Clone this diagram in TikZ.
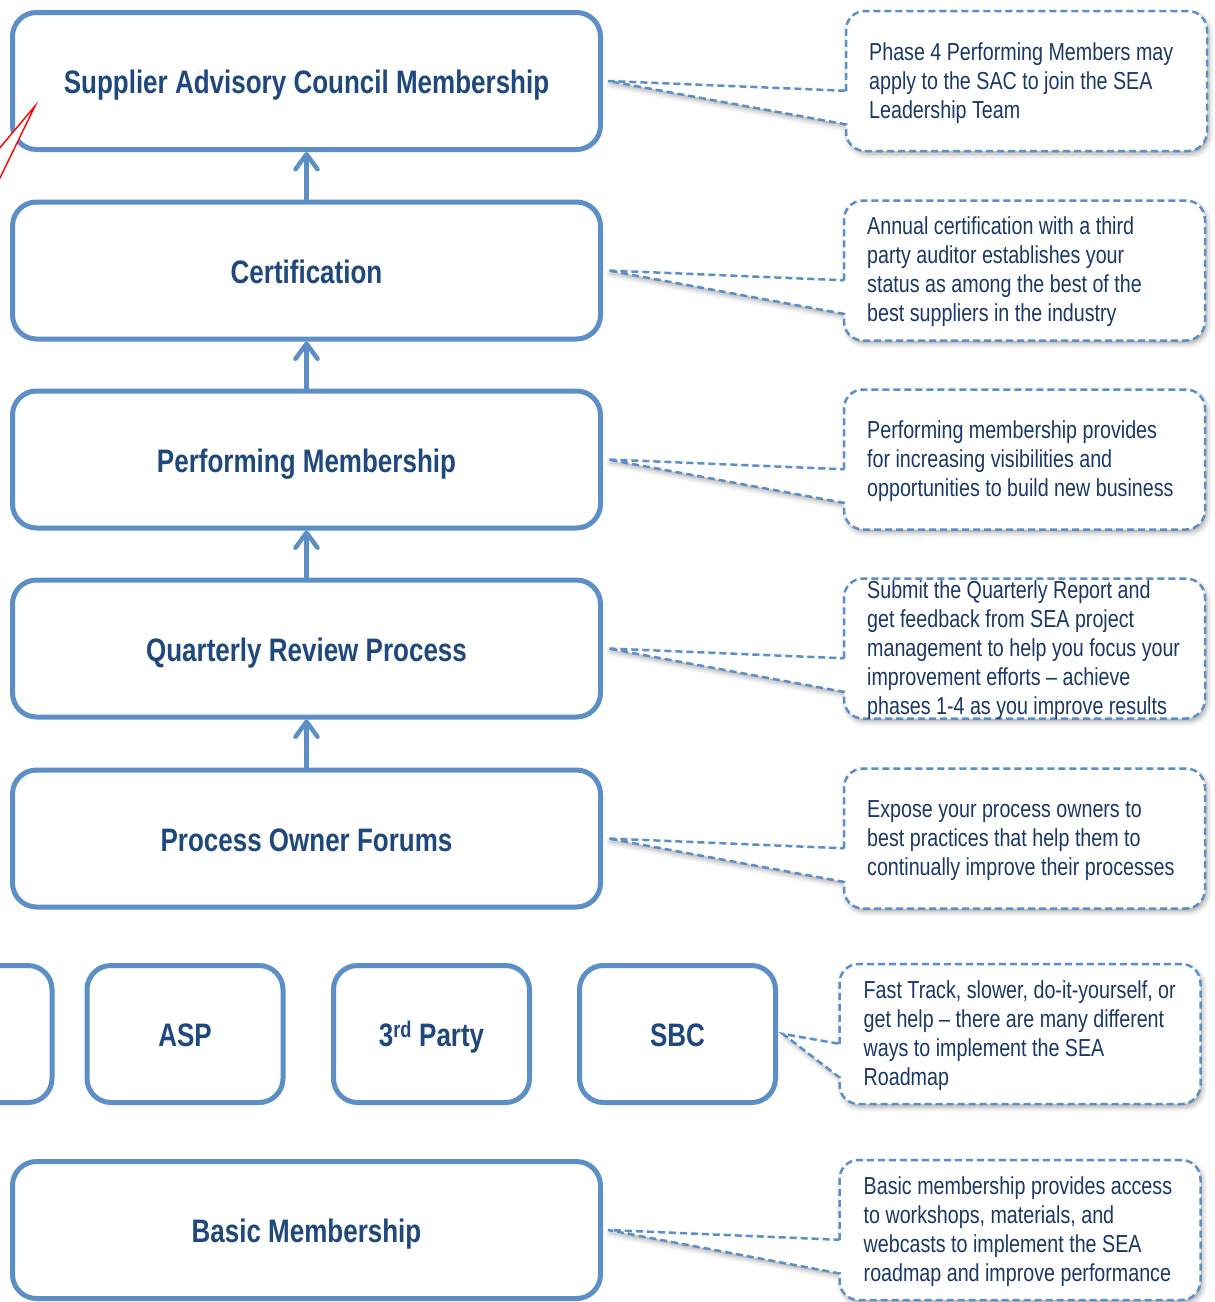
\documentclass[tikz,border=0pt]{standalone}
\usepackage{fontspec}
\setmainfont[FakeStretch=0.8]{Liberation Sans}
\usetikzlibrary{arrows.meta,calc,backgrounds,shadows.blur}

\definecolor{boxblue}{RGB}{92,143,198}
\definecolor{textblue}{RGB}{31,73,125}
\definecolor{notetext}{RGB}{28,56,102}

% callout outline: rounded box with a wedge pointing at a box
\newcommand{\calloutline}[2]{%
  \draw[outline]
    ($(#1.north west)!0.57!(#1.south west)$) [rounded corners=19pt]
    -- (#1.north west) -- (#1.north east) -- (#1.south east) -- (#1.south west)
    [sharp corners] -- ($(#1.north west)!0.81!(#1.south west)$)
    -- ($(#2.east)+(5,0)$) -- cycle;}

\begin{document}
\begin{tikzpicture}[x=1pt,y=-1pt,
  box/.style={draw=boxblue, line width=5pt, rounded corners=24pt, fill=white,
    minimum width=588pt, minimum height=137pt, inner sep=0pt,
    text height=31pt, text depth=6pt,
    font=\bfseries\fontsize{32.5}{38}\selectfont, text=textblue},
  small/.style={box, minimum width=196pt},
  notebox/.style={minimum width=361pt, minimum height=140pt, inner sep=0pt, outer sep=0pt},
  notetxt/.style={anchor=west, align=left, inner sep=0pt,
    font=\fontsize{24.6}{29}\selectfont, text=notetext},
  outline/.style={draw=boxblue, line width=2.5pt, dash pattern=on 7pt off 4pt, fill=white,
    blur shadow={shadow xshift=2pt, shadow yshift=-3pt, shadow opacity=35, shadow blur radius=5pt}},
  up/.style={draw=boxblue, line width=4.5pt, shorten <=-3pt,
    -{Straight Barb[length=15pt,width=22pt,round]}}
]
\useasboundingbox (0,0) rectangle (1215,1302);
\clip (0,0) rectangle (1215,1302);

% membership ladder
\node[box] (sac)   at (306.5,81)    {Supplier Advisory Council Membership};
\node[box] (cert)  at (306.5,270.5) {Certification};
\node[box] (perf)  at (306.5,459.5) {Performing Membership};
\node[box] (qrp)   at (306.5,648.5) {Quarterly Review Process};
\node[box] (pof)   at (306.5,838.5) {Process Owner Forums};
\node[box] (basic) at (306.5,1230)  {Basic Membership};

% implementation routes
\node[small] (first) at (-46,1034)   {};
\node[small] (asp)   at (185,1034)   {ASP};
\node[small] (third) at (431.5,1034) {3\textsuperscript{rd} Party};
\node[small] (sbc)   at (677.5,1034) {SBC};

% upward progression
\draw[up] (cert.north) -- (sac.south);
\draw[up] (perf.north) -- (cert.south);
\draw[up] (qrp.north)  -- (perf.south);
\draw[up] (pof.north)  -- (qrp.south);

% red pointer at the top left
\fill[white] (35,106) -- (-2,150) -- (-2,182) -- cycle;
\draw[red, line width=1.4pt, line join=miter] (-2,150) -- (35,106) -- (-2,182);

% explanatory notes
\node[notebox] (n1) at (1026.5,81)   {};
\node[notebox] (n2) at (1024.5,270.5) {};
\node[notebox] (n3) at (1024.5,459.5) {};
\node[notebox] (n4) at (1024.5,648.5) {};
\node[notebox] (n5) at (1024.5,838.5) {};
\node[notebox] (n6) at (1020,1034)   {};
\node[notebox] (n7) at (1020,1230)   {};

\node[notetxt] (t1) at ($(n1.west)+(23,2)$) {Phase 4 Performing Members may\\apply to the SAC to join the SEA\\Leadership Team};
\node[notetxt] (t2) at ($(n2.west)+(23,1)$) {Annual certification with a third\\party auditor establishes your\\status as among the best of the\\best suppliers in the industry};
\node[notetxt] (t3) at ($(n3.west)+(23,2)$) {Performing membership provides\\for increasing visibilities and\\opportunities to build new business};
\node[notetxt] (t4) at ($(n4.west)+(23,2)$) {Submit the Quarterly Report and\\get feedback from SEA project\\management to help you focus your\\improvement efforts – achieve\\phases 1-4 as you improve results};
\node[notetxt] (t5) at ($(n5.west)+(23,2)$) {Expose your process owners to\\best practices that help them to\\continually improve their processes};
\node[notetxt] (t6) at ($(n6.west)+(24,2)$) {Fast Track, slower, do-it-yourself, or\\get help – there are many different\\ways to implement the SEA\\Roadmap};
\node[notetxt] (t7) at ($(n7.west)+(24,2)$) {Basic membership provides access\\to workshops, materials, and\\webcasts to implement the SEA\\roadmap and improve performance};

\begin{scope}[on background layer]
  \calloutline{n1}{sac}
  \calloutline{n2}{cert}
  \calloutline{n3}{perf}
  \calloutline{n4}{qrp}
  \calloutline{n5}{pof}
  \calloutline{n6}{sbc}
  \calloutline{n7}{basic}
\end{scope}
\end{tikzpicture}
\end{document}
